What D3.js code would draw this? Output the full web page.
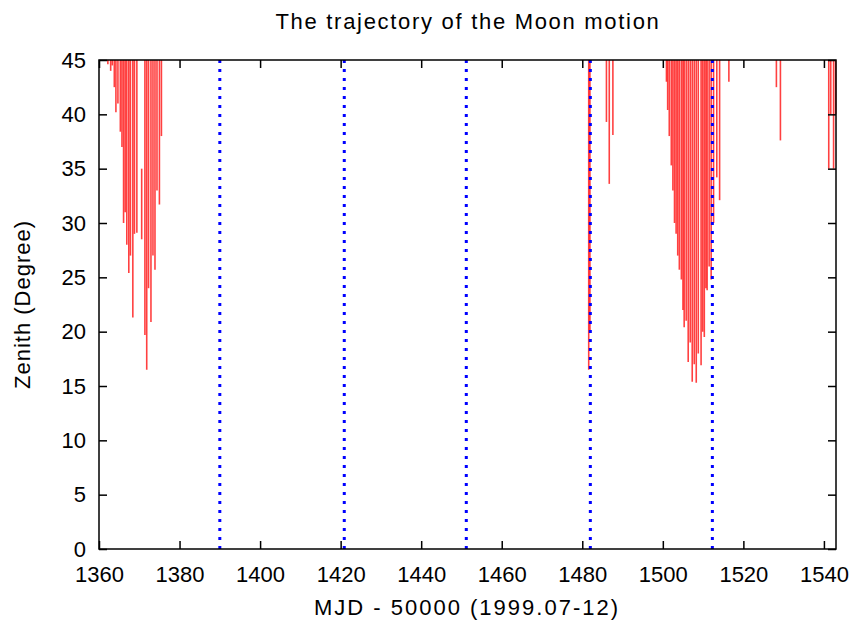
<!DOCTYPE html>
<html>
<head>
<meta charset="utf-8">
<script src="https://cdn.jsdelivr.net/npm/d3@7"></script>
<style>
  html, body { margin: 0; padding: 0; background: #fff; }
  text { font-family: "Liberation Sans", Arial, Helvetica, sans-serif; fill: #000; }
</style>
</head>
<body>
<svg id="chart" width="857" height="627"></svg>
<script>
// ---- data ----
const title = "The trajectory of the Moon motion";
const xLabel = "MJD - 50000 (1999.07-12)";
const yLabel = "Zenith (Degree)";
const xTicks = [1360, 1380, 1400, 1420, 1440, 1460, 1480, 1500, 1520, 1540];
const yTicks = [0, 5, 10, 15, 20, 25, 30, 35, 40, 45];
const xDomain = [1360, 1543];
const yDomain = [0, 45];

// nightly Moon tracks: time (MJD-50000), zenith at entry (top) and minimum zenith
const trackMjd = [
  1362.2, 1362.9, 1363.3, 1363.8, 1364.2, 1364.7, 1365.3, 1365.7, 1366.1, 1366.5,
  1366.9, 1367.4, 1367.8, 1368.4, 1368.8, 1369.4, 1370.6, 1371.4, 1371.85, 1372.3,
  1372.9, 1373.4, 1373.9, 1374.4, 1375.0, 1375.5,
  1481.6, 1481.9, 1486.0, 1486.7, 1487.6,
  1500.9, 1501.2, 1501.6, 1502.1, 1502.5, 1502.9, 1503.3, 1503.7, 1504.1, 1504.6,
  1505.0, 1505.3, 1505.8, 1506.3, 1506.8, 1507.3, 1507.8, 1508.3, 1508.8, 1509.5,
  1509.9, 1510.3, 1510.7, 1511.0, 1511.5, 1512.0, 1512.6, 1513.4, 1514.1, 1516.4,
  1528.2, 1529.2, 1541.2, 1541.7, 1542.4, 1542.9
];
const trackTop = [
  45, 45, 45, 45, 45, 45, 45, 45, 45, 45,
  45, 45, 45, 45, 45, 45, 35, 45, 45, 45,
  45, 45, 45, 45, 45, 45,
  45, 45, 45, 45, 45,
  45, 45, 45, 45, 45, 45, 45, 45, 45, 45,
  45, 45, 45, 45, 45, 45, 45, 45, 45, 45,
  45, 45, 45, 45, 45, 45, 45, 45, 45, 45,
  45, 45, 45, 45, 45, 45
];
const trackMin = [
  44.6, 44.0, 44.5, 42.5, 40.2, 41.0, 38.4, 37.0, 30.0, 31.0,
  28.0, 25.4, 27.0, 21.3, 29.0, 29.1, 28.5, 19.7, 16.5, 24.0,
  20.9, 27.0, 25.7, 33.0, 31.7, 38.0,
  16.5, 20.0, 39.3, 33.6, 38.1,
  43.0, 40.4, 38.0, 35.3, 33.0, 30.0, 29.0, 27.0, 25.7, 24.8,
  22.0, 20.4, 21.0, 17.2, 19.0, 15.4, 17.0, 15.3, 18.0, 16.9,
  20.0, 19.5, 24.0, 23.8, 26.0, 24.8, 30.0, 34.2, 32.1, 43.0,
  42.5, 37.6, 35.0, 40.0, 35.0, 40.0
];
// full-moon markers
const markerMjd = [1390.0, 1420.9, 1451.2, 1482.0, 1512.3];

// ---- layout ----
const svg = d3.select("#chart");
const m = { left: 99, right: 836, top: 60, bottom: 549 };
const x = d3.scaleLinear().domain(xDomain).range([m.left, m.right]);
const y = d3.scaleLinear().domain(yDomain).range([m.bottom, m.top]);

const tracks = trackMjd.map((t, i) => ({ t, top: trackTop[i], min: trackMin[i] }));

// red tracks
svg.append("g")
  .selectAll("line")
  .data(tracks)
  .join("line")
  .attr("x1", d => x(d.t)).attr("x2", d => x(d.t))
  .attr("y1", d => y(d.top)).attr("y2", d => y(d.min))
  .attr("stroke", "#ff0000")
  .attr("stroke-opacity", 0.75)
  .attr("stroke-width", 1.6);

// blue dotted markers
svg.append("g")
  .selectAll("line")
  .data(markerMjd)
  .join("line")
  .attr("x1", d => x(d)).attr("x2", d => x(d))
  .attr("y1", y(0)).attr("y2", y(45))
  .attr("stroke", "#0000ff")
  .attr("stroke-width", 3)
  .attr("stroke-dasharray", "3,6");

// axes (gnuplot style: inward ticks, mirrored)
const tickLen = 8;
const fs = "22px";
const fmt = d3.format("d");
const gL = svg.append("g").attr("transform", `translate(${m.left},0)`)
  .call(d3.axisLeft(y).tickValues(yTicks).tickFormat(fmt).tickSize(-tickLen).tickPadding(13));
const gB = svg.append("g").attr("transform", `translate(0,${m.bottom})`)
  .call(d3.axisBottom(x).tickValues(xTicks).tickFormat(fmt).tickSize(-tickLen).tickPadding(17));
const gR = svg.append("g").attr("transform", `translate(${m.right},0)`)
  .call(d3.axisRight(y).tickValues(yTicks).tickSize(-tickLen).tickFormat(""));
const gT = svg.append("g").attr("transform", `translate(0,${m.top})`)
  .call(d3.axisTop(x).tickValues(xTicks).tickSize(-tickLen).tickFormat(""));
[gL, gB, gR, gT].forEach(g => {
  g.select(".domain").remove();
  g.selectAll(".tick line").attr("stroke", "#000").attr("stroke-width", 1.5);
  g.selectAll(".tick text").style("font-size", fs).style("font-family", "'Liberation Sans', Arial, sans-serif").attr("fill", "#000");
});

// frame
svg.append("rect")
  .attr("x", m.left).attr("y", m.top)
  .attr("width", m.right - m.left).attr("height", m.bottom - m.top)
  .attr("fill", "none").attr("stroke", "#000").attr("stroke-width", 1.5);

// titles
svg.append("text").attr("x", 468).attr("y", 29).attr("text-anchor", "middle")
  .style("font-size", "22px").style("letter-spacing", "1.7px").text(title);
svg.append("text").attr("x", 467).attr("y", 615).attr("text-anchor", "middle")
  .style("font-size", "22px").style("letter-spacing", "2px").text(xLabel);
svg.append("text").attr("transform", `translate(30,${(m.top + m.bottom) / 2}) rotate(-90)`)
  .attr("text-anchor", "middle").style("font-size", "22px").style("letter-spacing", "1px").text(yLabel);
</script>
</body>
</html>
